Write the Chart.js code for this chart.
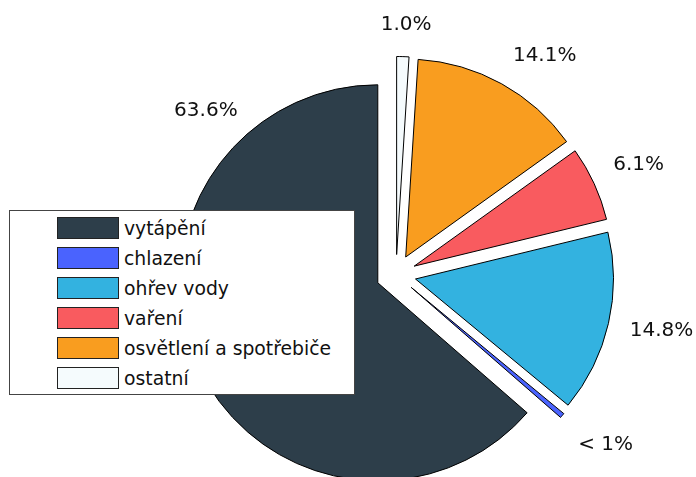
<!DOCTYPE html>
<html>
<head>
<meta charset="utf-8">
<script src="https://cdn.jsdelivr.net/npm/chart.js@4/dist/chart.umd.min.js"></script>
<style>
  body { margin: 0; background: #fff; }
  #wrap { position: relative; width: 696px; height: 477px; overflow: hidden; }
  #legend {
    position: absolute; left: 9px; top: 210px; width: 344px; height: 183px;
    border: 1px solid #444; background: #fff;
    font-family: "DejaVu Sans"; font-size: 18.8px; color: #111;
  }
  .row { position: absolute; left: 47px; height: 22px; display: flex; align-items: center; white-space: nowrap; }
  .sw { width: 60px; height: 20px; border: 1px solid #222; margin-right: 5px; box-sizing: content-box; }
</style>
</head>
<body>
<div id="wrap">
  <canvas id="myChart" width="696" height="477"></canvas>
  <div id="legend"></div>
</div>
<script>
// data, in legend order
var categories = ['vytápění', 'chlazení', 'ohřev vody', 'vaření', 'osvětlení a spotřebiče', 'ostatní'];
var shares = [63.6, 0.4, 14.8, 6.1, 14.1, 1.0];
var shareLabels = ['63.6%', '< 1%', '14.8%', '6.1%', '14.1%', '1.0%'];
var colors = ['#2d3e4a', '#4a63fe', '#33b2e0', '#f95b5f', '#f99d1f', '#f5fbfd'];

// layout bits for the percentage texts (degrees off the slice middle, px from centre)
var labelTurn = [65.5, -1.5, -1.4, 0, 5, 0.5];
var labelDist = [252, 269, 271, 267, 266, 252];
var explodeBy = 20;

// pie goes clockwise, the picture goes counter-clockwise -> feed it reversed
var order = categories.map(function (c, i) { return i; }).reverse();

var explode = {
    id: 'explode',
    beforeDatasetsDraw: function (chart) {
        chart.getDatasetMeta(0).data.forEach(function (arc) {
            var mid = (arc.startAngle + arc.endAngle) / 2;
            arc._base = [arc.x, arc.y];
            arc.x += Math.cos(mid) * explodeBy;
            arc.y += Math.sin(mid) * explodeBy;
        });
    },
    afterDatasetsDraw: function (chart) {
        var ctx = chart.ctx;
        ctx.save();
        ctx.font = '20px "DejaVu Sans"';
        ctx.fillStyle = '#111';
        ctx.textAlign = 'center';
        ctx.textBaseline = 'alphabetic';
        chart.getDatasetMeta(0).data.forEach(function (arc, k) {
            arc.x = arc._base[0];
            arc.y = arc._base[1];
            var i = order[k];
            var a = (arc.startAngle + arc.endAngle) / 2 + labelTurn[i] * Math.PI / 180;
            var x = arc.x + Math.cos(a) * labelDist[i];
            var y = arc.y + Math.sin(a) * labelDist[i];
            ctx.fillText(shareLabels[i], x, y + 7.3);
        });
        ctx.restore();
    }
};

var ctx = document.getElementById('myChart');
var myChart = new Chart(ctx, {
    type: 'pie',
    data: {
        labels: order.map(function (i) { return categories[i]; }),
        datasets: [{
            data: order.map(function (i) { return shares[i]; }),
            backgroundColor: order.map(function (i) { return colors[i]; }),
            borderColor: '#000',
            borderWidth: 1,
            radius: 198,
            clip: false
        }]
    },
    options: {
        responsive: false,
        animation: false,
        events: [],
        layout: { padding: { left: 96, top: 72, right: 0, bottom: 0 } },
        plugins: { legend: { display: false }, tooltip: { enabled: false } }
    },
    plugins: [explode]
});

// legend box drawn over the pie
var legend = document.getElementById('legend');
categories.forEach(function (name, i) {
    var row = document.createElement('div');
    row.className = 'row';
    row.style.top = (6 + i * 30) + 'px';
    var sw = document.createElement('div');
    sw.className = 'sw';
    sw.style.background = colors[i];
    row.appendChild(sw);
    row.appendChild(document.createTextNode(name));
    legend.appendChild(row);
});
</script>
</body>
</html>
